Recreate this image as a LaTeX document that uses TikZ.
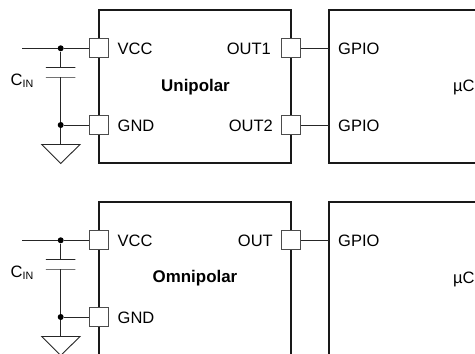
\documentclass[tikz,border=0pt]{standalone}
\usepackage{fontspec}
\setmainfont{Liberation Sans}
\newcommand{\cinlabel}{C\raisebox{-2.5pt}{\fontsize{10.7}{12}\selectfont IN}}

\begin{document}
\begin{tikzpicture}[-,x=1pt,y=-1pt,font=\fontsize{16.5}{19}\selectfont]
    \tikzstyle{block}=[line width=1.6pt,black!90];
    \tikzstyle{wire}=[line width=0.9pt,black!85];
    \tikzstyle{pin}=[draw=black!70,fill=white,line width=0.9pt,shape=rectangle,minimum size=19pt,inner sep=0pt];
    \tikzstyle{dot}=[fill=black,shape=circle,minimum size=6pt,inner sep=0pt];
    \tikzstyle{plate}=[draw=black!85,line width=0.9pt,shape=rectangle,minimum width=29.5pt,minimum height=0pt,inner sep=0pt];
    \tikzstyle{txt}=[inner sep=0pt];
    \tikzstyle{title}=[inner sep=0pt,font=\fontsize{16.9}{19}\selectfont\bfseries];
    \useasboundingbox (0,0) rectangle (475,354);
    \clip (0,0) rectangle (475,354);

    % unipolar
    \draw[block] (99,10) rectangle (291,163);
    \draw[block] (490,10) -- (329,10) -- (329,163) -- (490,163);

    \node[pin] (vcc1) at (99,48.3) {};
    \node[pin] (gnd1) at (99,125) {};
    \node[pin] (out1) at (291,48.3) {};
    \node[pin] (out2) at (291,125) {};
    \node[dot] (ja1) at (60.7,48.3) {};
    \node[dot] (jb1) at (60.7,125) {};
    \node[plate] (ctop1) at (60.7,67.7) {};
    \node[plate] (cbot1) at (60.7,77) {};
    \coordinate (in1) at (22,48.3);
    \coordinate (gpa1) at (329,48.3);
    \coordinate (gpb1) at (329,125);
    \coordinate (tl1) at (41.7,144.5);
    \coordinate (tr1) at (80,144.5);
    \coordinate (tb1) at (60.7,163.5);
    \coordinate (tm1) at (60.7,144.5);

    \draw[wire] (in1) -- (ja1);
    \draw[wire] (ja1) -- (vcc1);
    \draw[wire] (ja1) -- (ctop1);
    \draw[wire] (cbot1) -- (jb1);
    \draw[wire] (jb1) -- (gnd1);
    \draw[wire] (jb1) -- (tm1);
    \draw[wire] (tl1) -- (tr1) -- (tb1) -- cycle;
    \draw[wire] (out1) -- (gpa1);
    \draw[wire] (out2) -- (gpb1);

    \node[txt,anchor=east] (cin1) at (33.5,80.5) {\cinlabel};
    \node[txt,anchor=west] (vl1) at (117.5,48.5) {VCC};
    \node[txt,anchor=west] (gl1) at (117.5,126) {GND};
    \node[txt,anchor=east] (ol1) at (271,48.5) {OUT1};
    \node[txt,anchor=east] (ol2) at (273,126) {OUT2};
    \node[txt,anchor=west] (pl1) at (338,49) {GPIO};
    \node[txt,anchor=west] (pl2) at (338,126) {GPIO};
    \node[title] (uni) at (195.5,87) {Unipolar};
    \node[txt,anchor=west] (mc1) at (453,87) {µC};

    % omnipolar
    \draw[block] (99,380) -- (99,202) -- (291,202) -- (291,380);
    \draw[block] (490,202) -- (329,202) -- (329,380);

    \node[pin] (vcc2) at (99,240.3) {};
    \node[pin] (gnd2) at (99,317) {};
    \node[pin] (out3) at (291,240.3) {};
    \node[dot] (ja2) at (60.7,240.3) {};
    \node[dot] (jb2) at (60.7,317) {};
    \node[plate] (ctop2) at (60.7,259.7) {};
    \node[plate] (cbot2) at (60.7,269) {};
    \coordinate (in2) at (22,240.3);
    \coordinate (gpa2) at (329,240.3);
    \coordinate (tl2) at (41.7,336.5);
    \coordinate (tr2) at (80,336.5);
    \coordinate (tb2) at (60.7,355.5);
    \coordinate (tm2) at (60.7,336.5);

    \draw[wire] (in2) -- (ja2);
    \draw[wire] (ja2) -- (vcc2);
    \draw[wire] (ja2) -- (ctop2);
    \draw[wire] (cbot2) -- (jb2);
    \draw[wire] (jb2) -- (gnd2);
    \draw[wire] (jb2) -- (tm2);
    \draw[wire] (tl2) -- (tr2) -- (tb2) -- cycle;
    \draw[wire] (out3) -- (gpa2);

    \node[txt,anchor=east] (cin2) at (33.5,272.5) {\cinlabel};
    \node[txt,anchor=west] (vl2) at (117.5,240.5) {VCC};
    \node[txt,anchor=west] (gl2) at (117.5,318) {GND};
    \node[txt,anchor=east] (ol3) at (273,240.5) {OUT};
    \node[txt,anchor=west] (pl3) at (338,241) {GPIO};
    \node[title] (omni) at (195,278) {Omnipolar};
    \node[txt,anchor=west] (mc2) at (453,279) {µC};
\end{tikzpicture}
\end{document}
